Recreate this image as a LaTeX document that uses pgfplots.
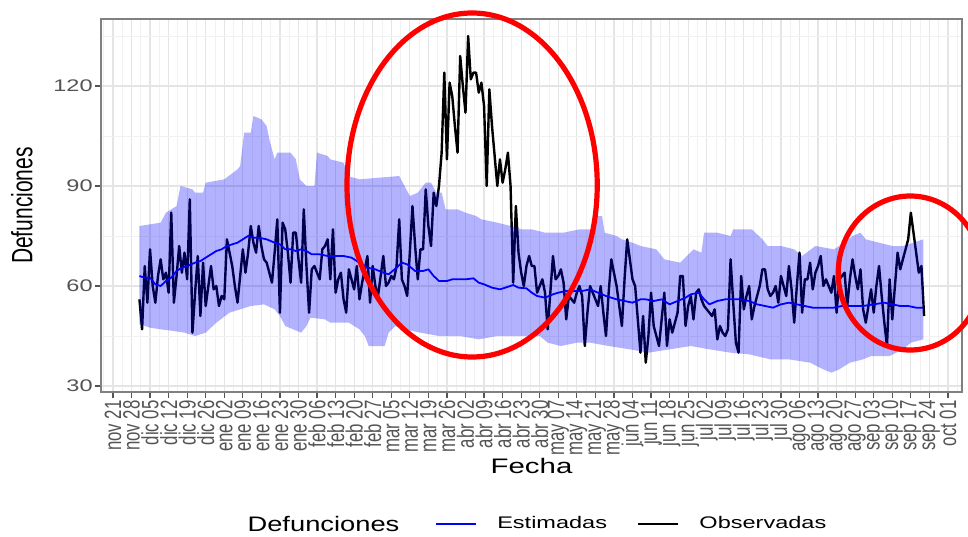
\documentclass[border=0pt]{standalone}
\usepackage{fontspec}
\setmainfont{Liberation Sans}
\usepackage{graphicx}
\usepackage{pgfplots}
\pgfplotsset{compat=1.18}
\newcommand{\hs}[1]{\scalebox{1.4}[1]{#1}}
\newcommand{\vs}[1]{\scalebox{1}[1.4]{#1}}
\definecolor{tickgray}{gray}{0.33}
\begin{document}
\begin{tikzpicture}
\begin{axis}[
  name=ax,
  scale only axis, width=430.5pt, height=186.5pt,
  xmin=-4.5, xmax=320.3, ymin=28.2, ymax=140.1,
  clip=false,
  axis line style={gray, line width=0.6pt},
  xtick pos=bottom, ytick pos=left,
  xtick={0,7,...,315},
  xticklabels={\vs{nov 21},\vs{nov 28},\vs{dic 05},\vs{dic 12},\vs{dic 19},\vs{dic 26},\vs{ene 02},\vs{ene 09},\vs{ene 16},\vs{ene 23},\vs{ene 30},\vs{feb 06},\vs{feb 13},\vs{feb 20},\vs{feb 27},\vs{mar 05},\vs{mar 12},\vs{mar 19},\vs{mar 26},\vs{abr 02},\vs{abr 09},\vs{abr 16},\vs{abr 23},\vs{abr 30},\vs{may 07},\vs{may 14},\vs{may 21},\vs{may 28},\vs{jun 04},\vs{jun 11},\vs{jun 18},\vs{jun 25},\vs{jul 02},\vs{jul 09},\vs{jul 16},\vs{jul 23},\vs{jul 30},\vs{ago 06},\vs{ago 13},\vs{ago 20},\vs{ago 27},\vs{sep 03},\vs{sep 10},\vs{sep 17},\vs{sep 24},\vs{oct 01}},
  minor xtick={-3.5,3.5,...,318.5},
  ytick={30,60,90,120},
  yticklabels={\hs{30},\hs{60},\hs{90},\hs{120}},
  minor ytick={45,75,105,135},
  grid=both,
  major grid style={gray!20, line width=0.6pt},
  minor grid style={gray!11, line width=0.4pt},
  tick align=outside,
  major tick length=3pt, minor tick length=0pt,
  tick style={tickgray, line width=0.6pt},
  xticklabel style={rotate=90, anchor=east, inner sep=1pt, font=\fontsize{8.4}{9}\selectfont, text=tickgray},
  yticklabel style={anchor=east, inner sep=1pt, font=\fontsize{8.4}{9}\selectfont, text=tickgray},
  xlabel={\hs{Fecha}},
  xlabel style={at={(axis description cs:0.5,-0.198)}, anchor=center, font=\fontsize{10.5}{12}\selectfont},
  ylabel={\vs{Defunciones}},
  ylabel style={at={(axis description cs:-0.0918,0.5)}, anchor=center, font=\fontsize{10.5}{12}\selectfont},
  legend style={at={(0.388,-0.354)}, anchor=west, draw=none, fill=none, inner sep=0pt,
    legend columns=2, font=\fontsize{8.4}{9}\selectfont,
    nodes={inner sep=0pt},
    /tikz/every odd column/.append style={column sep=10pt},
    /tikz/every even column/.append style={column sep=15pt}},
  legend image code/.code={\draw[#1] (0pt,0pt) -- (20pt,0pt);},
]
% observed (drawn first, under the ribbon)
\addplot[black, line width=1.2pt, line join=round, forget plot] coordinates {
(10,56)(11,47)(12,66)(13,55)(14,71)(15,60)(16,55)(17,63)(18,68)(19,62)(20,64)(21,58)(22,82)(23,55)(24,63)(25,72)(26,64)(27,70)(28,62)(29,86)(30,46)(31,58)(32,69)(33,51)(34,67)(35,54)(36,60)(37,66)(38,59)(39,60)(40,54)(41,57)(42,56)(43,74)(44,70)(45,66)(46,60)(47,55)(48,63)(49,71)(50,64)(51,70)(52,78)(53,73)(54,70)(55,78)(56,72)(57,68)(58,67)(59,64)(60,61)(61,70)(62,80)(63,52)(64,79)(65,77)(66,70)(67,61)(68,76)(69,76)(70,68)(71,61)(72,83)(73,66)(74,52)(75,65)(76,66)(77,64)(78,62)(79,71)(80,72)(81,74)(82,62)(83,77)(84,58)(85,62)(86,64)(87,56)(88,52)(89,65)(90,62)(91,59)(92,66)(93,56)(94,61)(95,65)(96,69)(97,55)(98,66)(99,60)(100,57)(101,63)(102,69)(103,60)(104,61)(105,63)(106,62)(107,66)(108,80)(109,62)(110,60)(111,57)(112,70)(113,84)(114,72)(115,62)(116,71)(117,71)(118,89)(119,78)(120,72)(121,88)(122,84)(123,90)(124,100)(125,124)(126,98)(127,121)(128,117)(129,108)(130,100)(131,129)(132,120)(133,112)(134,135)(135,122)(136,124)(137,124)(138,118)(139,121)(140,114)(141,90)(142,119)(143,108)(144,99)(145,90)(146,98)(147,91)(148,95)(149,100)(150,90)(151,61)(152,84)(153,70)(154,64)(155,60)(156,66)(157,69)(158,66)(159,66)(160,58)(161,60)(162,62)(163,58)(164,47)(165,58)(166,69)(167,62)(168,63)(169,65)(170,61)(171,50)(172,57)(173,56)(174,55)(175,58)(176,60)(177,57)(178,42)(179,52)(180,60)(181,58)(182,56)(183,54)(184,60)(185,52)(186,45)(187,58)(188,68)(189,64)(190,60)(191,54)(192,48)(193,62)(194,74)(195,68)(196,62)(197,60)(198,50)(199,40)(200,51)(201,37)(202,45)(203,58)(204,48)(205,45)(206,42)(207,50)(208,58)(209,42)(210,50)(211,46)(212,49)(213,52)(214,63)(215,63)(216,48)(217,54)(218,57)(219,50)(220,58)(221,59)(222,56)(223,54)(224,53)(225,52)(226,51)(227,53)(228,44)(229,48)(230,46)(231,45)(232,47)(233,68)(234,55)(235,43)(236,40)(237,63)(238,53)(239,57)(240,60)(241,50)(242,54)(243,57)(244,60)(245,65)(246,65)(247,59)(248,57)(249,58)(250,60)(251,55)(252,63)(253,60)(254,57)(255,66)(256,59)(257,49)(258,60)(259,70)(260,52)(261,62)(262,62)(263,67)(264,59)(265,64)(266,66)(267,69)(268,60)(269,62)(270,60)(271,58)(272,63)(273,52)(274,62)(275,63)(276,64)(277,54)(278,62)(279,68)(280,63)(281,59)(282,65)(283,53)(284,49)(285,54)(286,59)(287,52)(288,60)(289,66)(290,57)(291,49)(292,42)(293,62)(294,50)(295,60)(296,70)(297,65)(298,68)(299,71)(300,74)(301,82)(302,76)(303,70)(304,64)(305,66)(306,51)
};
% ribbon: upper bound left to right, then lower bound right to left
\addplot[fill=blue, fill opacity=0.3, draw=none, forget plot] coordinates {
(10,78)(18,79)(20,82)(24,84)(25.5,90)(30,89)(31,88)(34,88)(35,91)(42,92)(47,95)(48,96)(49.5,106)(52,106)(53,111)(56,110)(58,108)(59,104)(61,98)(62,100)(67,100)(69,98)(70.5,92)(73,90)(76,90)(77,100)(81,99)(82,98)(87,97)(88.5,93)(93,92)(108,93)(110,90)(112,87)(115,88)(118,91)(120,91)(122,88)(124,88)(125.5,83)(130,83)(133,82)(137,81)(139,80)(145,79)(150,78)(154,77)(158,77)(163,76)(170,76)(176,77)(181,77)(182,81)(184.5,81)(185.5,76)(190,75)(192,74)(196,73)(199,72)(205,71)(208,68)(214,67)(219,71)(222,70)(223,76)(228,76)(233,75)(234,77)(238,77)(241,77)(245,74)(247,72)(252,72)(257,71)(260,69)(265,72)(272,71)(276,73)(279,75)(282,76)(284,74)(289,73)(294,72)(298,72)(302,73)(305.7,74)
(305.7,44)(301,43)(298,41)(293,39)(286,39)(283,38)(278,37)(274,35)(271,34)(268,35)(263,37)(255,38)(248,38)(240,39.5)(233,40)(225,41)(218,42)(210,41)(202,40)(195,41)(187,42)(180,43)(175,43)(169,42)(164,43)(161,45)(155,45)(145,45)(138,44)(131,45)(123,45)(116,46)(110,47)(106.5,48)(104,46)(102.5,42)(96.5,42)(95,45)(93,47)(89,49)(82,49)(80,50)(74.5,50.5)(73,48)(71,46)(68,47)(65,48)(63,51)(61,53)(57,54.5)(52,54)(48,53)(44,52)(39,49)(35,46)(31,45)(27,46)(23,46.5)(18,47)(14,47.5)(10,48.5)
} -- cycle;
% estimated
\addplot[blue, line width=0.9pt, line join=round, forget plot] coordinates {
(10,63)(12,62.5)(14,62.5)(16,60.5)(18,60)(20,61.5)(22,62.5)(24,64.5)(26,65.5)(28,66)(31,67)(33,67.5)(35,68.5)(37,69.5)(39,70.5)(41,71)(43,72)(45,72.5)(47,73)(49,74)(51,75)(53,74.5)(55,74.5)(58,74)(61,73)(63,72.5)(65,71)(67,71)(69,70.5)(71,71)(73,70.5)(75,69.5)(78,69.5)(81,69)(84,69)(87,69)(90,68.5)(93,67)(96,65.5)(99,65)(102,64)(104,63.5)(107,65.5)(109,67)(111,66.5)(114,64.5)(117,64.5)(119,65)(121,63)(123,61.5)(126,61.5)(128,62)(131,62)(133,62)(136,62.3)(138,61)(140,60.5)(143,59.5)(146,59)(148,59.5)(151,60.3)(153,59.5)(156,59.3)(158,58)(160,57)(163,56.5)(166,57.5)(168,58)(171,58.5)(174,58.5)(177,58.5)(180,59)(183,58)(186,57)(188,56.5)(190,56)(193,55.5)(196,55)(199,56)(201,56)(204,55.5)(207,56)(210,54.5)(213,55.5)(216,56.5)(218,57.5)(221,58)(223,56)(225,54.5)(228,55.5)(231,56)(234,56)(237,56)(240,55.5)(243,54.5)(246,54)(249,53.5)(252,54.5)(255,55)(258,54.5)(261,54)(264,53.5)(268,53.5)(272,53.5)(275,54)(279,54)(283,54)(287,54.5)(291,55)(294,54.5)(297,54)(300,54)(303,53.5)(305.7,53.5)
};
\addlegendimage{blue, line width=0.9pt}
\addlegendentry{\hs{Estimadas}}
\addlegendimage{black, line width=1.2pt}
\addlegendentry{\hs{Observadas}}
\node[anchor=east, font=\fontsize{10.5}{12}\selectfont, inner sep=0pt] at (axis description cs:0.347,-0.354) {\scalebox{1.3}[1]{Defunciones}};
% annotations
\draw[red, line width=2.6pt] (axis cs:135.5,90.3) ellipse [x radius=47.2, y radius=51.6];
\draw[red, line width=2.6pt] (axis cs:300.8,63.9) ellipse [x radius=27.2, y radius=23.1];
\end{axis}
\pgfresetboundingbox
\useasboundingbox ([xshift=-50.5pt, yshift=-72pt]ax.south west) rectangle ([xshift=3pt, yshift=9.5pt]ax.north east);
\end{tikzpicture}
\end{document}
